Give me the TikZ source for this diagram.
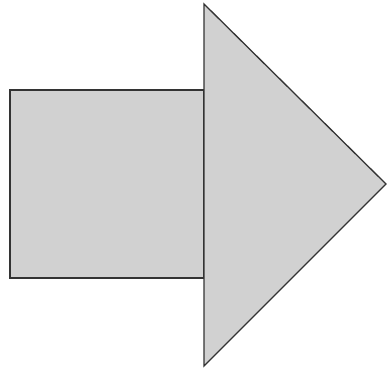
\documentclass[tikz,border=0pt]{standalone}
\begin{document}
\begin{tikzpicture}[x=1pt,y=1pt,
  shapefill/.style={fill=black!18, draw=black!80, line width=1.3pt, line join=miter}]
\useasboundingbox (0,0) rectangle (387,368);
\draw[shapefill] (10,90) rectangle (204,278);
\draw[shapefill] (204,2) -- (386,184) -- (204,364) -- cycle;
\end{tikzpicture}
\end{document}
